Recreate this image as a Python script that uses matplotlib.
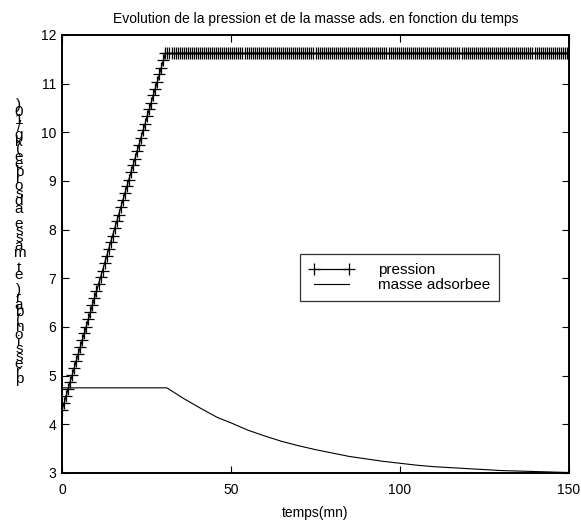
import numpy as np
import matplotlib
matplotlib.use("Agg")
import matplotlib.pyplot as plt

plt.rcParams['font.family'] = ['Liberation Sans', 'DejaVu Sans']

# time grid of the simulation (mn)
dt = 0.6
temps = np.arange(0, 150 + dt / 2, dt)

# pression (bar): linear rise then constant
pression_montee = [
    4.29, 4.43, 4.58, 4.72, 4.87, 5.01, 5.15, 5.30, 5.44, 5.58,
    5.73, 5.87, 6.01, 6.16, 6.30, 6.45, 6.59, 6.73, 6.88, 7.02,
    7.16, 7.31, 7.45, 7.60, 7.74, 7.88, 8.03, 8.17, 8.31, 8.46,
    8.60, 8.75, 8.89, 9.03, 9.18, 9.32, 9.46, 9.61, 9.75, 9.89,
    10.04, 10.18, 10.33, 10.47, 10.61, 10.76, 10.90, 11.04, 11.19, 11.33,
    11.48, 11.62,
]
pression_palier = 11.62
pression = pression_montee + [pression_palier] * (len(temps) - len(pression_montee))

# masse adsorbee (kg/10)
temps_masse = [0, 31, 36, 41, 46, 50, 55, 60, 65, 70, 75, 80, 85, 90, 95,
               100, 105, 110, 115, 120, 125, 130, 135, 140, 145, 150]
masse = [4.75, 4.75, 4.53, 4.33, 4.14, 4.03, 3.88, 3.76, 3.65, 3.56, 3.48,
         3.41, 3.34, 3.29, 3.24, 3.20, 3.16, 3.13, 3.11, 3.09, 3.07, 3.05,
         3.04, 3.03, 3.02, 3.01]

xticks = [0, 50, 100, 150]
yticks = list(range(3, 13))

W, H = 581, 520
fig = plt.figure(figsize=(W / 100, H / 100), dpi=100)
ax = fig.add_axes([62 / W, 1 - 473 / H, (569 - 62) / W, (473 - 35) / H])

ax.plot(temps, pression, color="black", linewidth=0.9, marker="+",
        markersize=8, markeredgewidth=0.9, label="pression")
ax.plot(temps_masse, masse, color="black", linewidth=0.8, label="masse adsorbee")

ax.set_xlim(0, 150)
ax.set_ylim(3, 12)
ax.set_xticks(xticks)
ax.set_yticks(yticks)
ax.tick_params(direction="in", length=5, width=0.8, top=True, right=True,
               labelsize=10, colors="black")
ax.tick_params(axis="x", pad=7)
ax.tick_params(axis="y", pad=4)
for sp in ax.spines.values():
    sp.set_linewidth(1.4)

ax.set_title("Evolution de la pression et de la masse ads. en fonction du temps",
             fontsize=10, pad=9)
ax.set_xlabel("temps(mn)", fontsize=10, labelpad=7)

leg = ax.legend(loc="upper left", bbox_to_anchor=(0.469, 0.5), borderaxespad=0,
                fancybox=False, frameon=True, edgecolor="black", fontsize=11,
                handlelength=2.9, handletextpad=1.6, numpoints=2,
                borderpad=0.6, labelspacing=0.05)
leg.get_frame().set_linewidth(0.9)

# y label as the original export shows it: upright glyphs stacked bottom to top
ylabel = "pression(bar) et masse adsorbee(kg/10)"
fig.text(19 / W, 1 - 242 / H, "\n".join(reversed(ylabel)), fontsize=11,
         ha="center", va="center", multialignment="center", linespacing=0.4)

fig.savefig("out.png", dpi=100)
